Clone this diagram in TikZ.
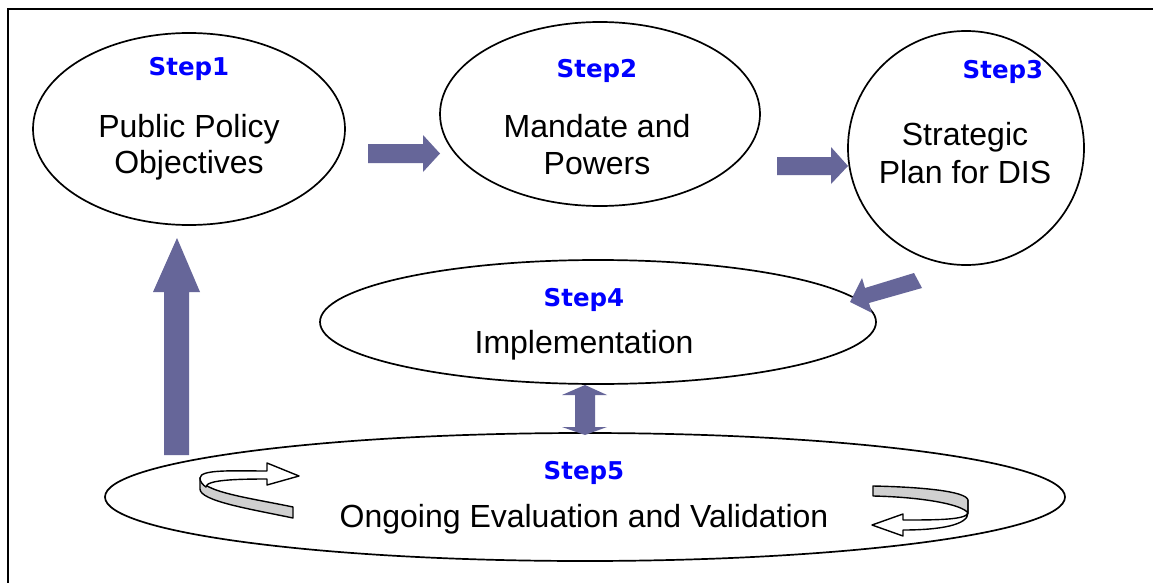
\documentclass[tikz,border=0pt]{standalone}
\usepackage{fontspec}
\setmainfont{Liberation Sans}
\newfontfamily\stepfont{DejaVu Sans}
\definecolor{arrowblue}{RGB}{102,102,153}
\definecolor{stepblue}{RGB}{0,0,255}
\definecolor{ribbon}{RGB}{208,208,208}
\tikzset{
  stage/.style={draw=black, line width=1.7pt},
  steplabel/.style={anchor=base, text=stepblue, font=\stepfont\bfseries\fontsize{24.5}{28}\selectfont, inner sep=0pt},
  bodytext/.style={anchor=base, font=\fontsize{32}{36}\selectfont, inner sep=0pt},
  blockarrow/.style={fill=arrowblue, draw=none},
  curlwhite/.style={fill=white, draw=black, line width=1.4pt, line join=round},
  curlgray/.style={fill=ribbon, draw=black, line width=1.4pt, line join=round},
}
\begin{document}
\begin{tikzpicture}[x=1pt,y=-1pt]
\useasboundingbox (0,0) rectangle (1153,583);
\fill[white] (0,0) rectangle (1153,583);
% frame
\draw[line width=1.8pt] (8,583) -- (8,9) -- (1153,9);

% ellipses
\draw[stage] (189,129) ellipse[x radius=156, y radius=96];
\coordinate (e1) at (189,129);
\draw[stage] (600,114) ellipse[x radius=160, y radius=92];
\coordinate (e2) at (600,114);
\draw[stage] (966,148) ellipse[x radius=118, y radius=117];
\coordinate (e3) at (966,148);
\draw[stage] (598,322) ellipse[x radius=278, y radius=62];
\coordinate (e4) at (598,322);
\draw[stage] (585,497) ellipse[x radius=480, y radius=64];
\coordinate (e5) at (585,497);

% texts
\node[steplabel] (s1) at (189,76) {Step1};
\node[bodytext] (t1a) at (189,137) {Public Policy};
\node[bodytext] (t1b) at (189,173) {Objectives};

\node[steplabel] (s2) at (597,78) {Step2};
\node[bodytext] (t2a) at (597,138) {Mandate and};
\node[bodytext] (t2b) at (597,174) {Powers};

\node[steplabel] (s3) at (1003,79) {Step3};
\node[bodytext] (t3a) at (965,146) {Strategic};
\node[bodytext] (t3b) at (965,183) {Plan for DIS};

\node[steplabel] (s4) at (584,306) {Step4};
\node[bodytext] (t4) at (584,353) {Implementation};

\node[steplabel] (s5) at (584,479) {Step5};
\node[bodytext] (t5) at (584,527) {Ongoing Evaluation and Validation};

% block arrows
% 1 -> 2
\fill[blockarrow] (368,144) -- (423,144) -- (423,135) -- (440,153.5) -- (423,172) -- (423,163) -- (368,163) -- cycle;
% 2 -> 3
\fill[blockarrow] (777,157) -- (831,157) -- (831,147) -- (848,166) -- (831,184) -- (831,175) -- (777,175) -- cycle;
% 3 -> 4
\fill[blockarrow] (914,273) -- (922,288) -- (869,303) -- (872,313) -- (850,302) -- (862,278) -- (865,288) -- cycle;
% 4 <-> 5
\fill[blockarrow] (585,385) -- (607,395) -- (595,395) -- (595,427) -- (607,427) -- (585,435) -- (562,427) -- (575,427) -- (575,395) -- (562,395) -- cycle;
% 5 -> 1 (up)
\fill[blockarrow] (177,238) -- (200,292) -- (189,292) -- (189,455) -- (164,455) -- (164,292) -- (153,292) -- cycle;

% curled arrows (left)
\draw[curlgray] (200,478) .. controls (202,492) and (250,498) .. (293,507) -- (293,518) .. controls (250,509) and (200,501) .. (200,489) -- cycle;
\draw[curlwhite] (200,478) .. controls (200,469) and (235,471) .. (267,471) -- (267,463) -- (299,476) -- (267,485) -- (267,479) .. controls (235,479) and (206,480) .. (206,487) .. controls (203,485) and (200,482) .. (200,478) -- cycle;

% curled arrows (right)
\draw[curlgray] (873,486) .. controls (920,487) and (966,491) .. (968,500) -- (968,513) .. controls (962,504) and (920,497) .. (873,496) -- cycle;
\draw[curlwhite] (968,500) -- (968,513) .. controls (966,520) and (935,520) .. (903,520) -- (903,514) -- (872,525) -- (903,536) -- (903,530) .. controls (940,530) and (968,525) .. (968,513);
\end{tikzpicture}
\end{document}
